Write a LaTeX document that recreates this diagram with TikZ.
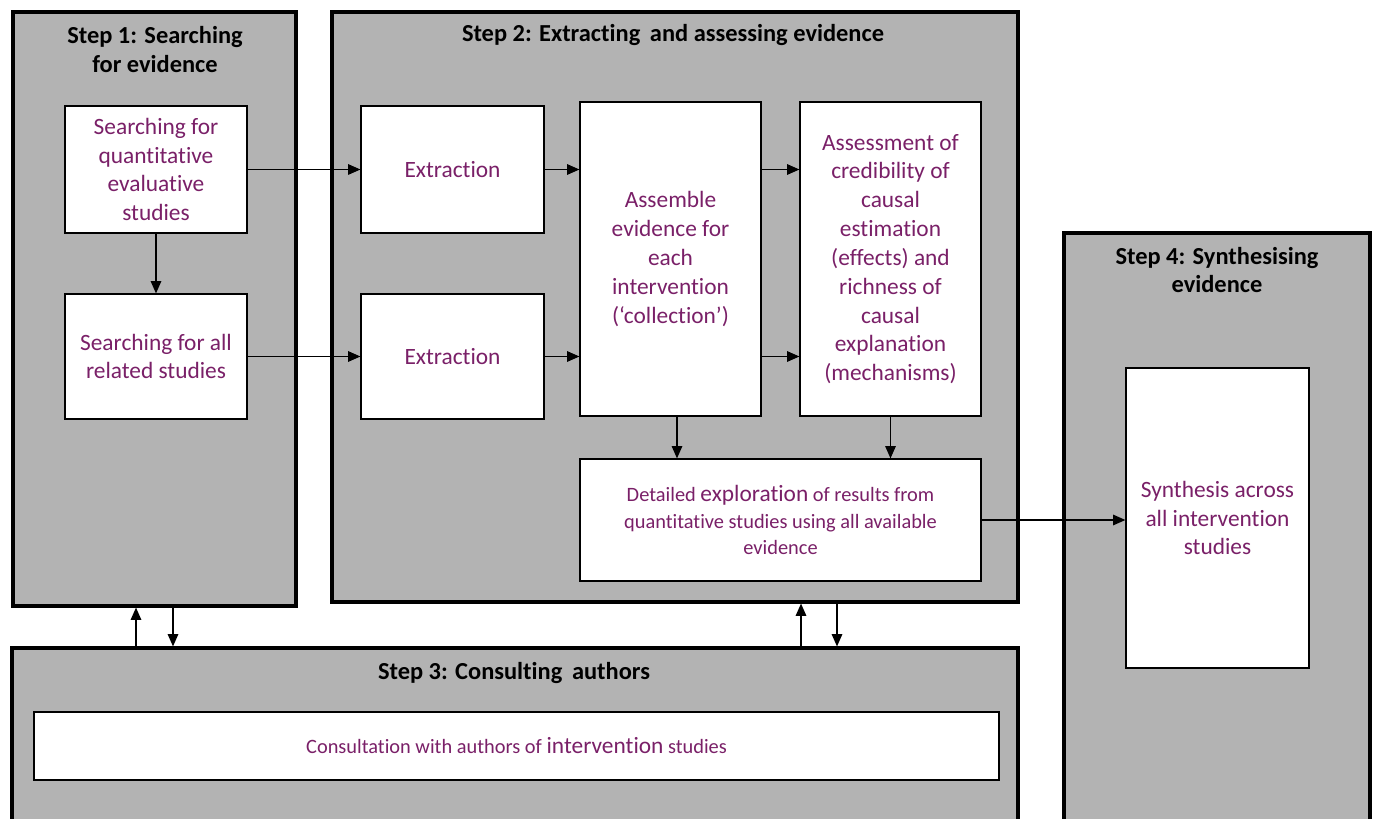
\documentclass[tikz,border=0pt]{standalone}
\usepackage{fontspec}
\setmainfont{Carlito}[Ligatures=CommonOff]
\usetikzlibrary{arrows.meta}
\definecolor{boxgray}{RGB}{179,179,179}
\definecolor{txtpurple}{RGB}{122,32,104}
\tikzset{every node/.style={inner sep=2pt}}
\tikzset{stepbox/.style={rectangle,draw,line width=1.8pt,fill=boxgray}}
\tikzset{inbox/.style={rectangle,draw,line width=0.7pt,fill=white,text=txtpurple,align=center,font=\fontsize{13.3}{16.4}\selectfont}}
\tikzset{smallbox/.style={inbox,font=\fontsize{11.6}{15.3}\selectfont}}
\tikzset{ttl/.style={align=center,font=\bfseries\fontsize{13.9}{16.4}\selectfont}}
\tikzset{arr/.style={-{Triangle[length=7pt,width=6pt]},line width=0.7pt}}
\newcommand{\bigw}[1]{{\fontsize{13.3}{15.3}\selectfont #1}}

\begin{document}
\begin{tikzpicture}
      \clip (0,0) rectangle (27.56,-16.38);
      % the four steps
      \node[stepbox,minimum width=5.66cm,minimum height=11.88cm] (S1) at (3.09,-6.18) {};
      \node[stepbox,minimum width=13.72cm,minimum height=11.8cm] (S2) at (13.5,-6.14) {};
      \node[stepbox,minimum width=20.12cm,minimum height=3.84cm] (S3) at (10.3,-14.88) {};
      \node[stepbox,minimum width=6.12cm,minimum height=12.14cm] (S4) at (24.34,-10.73) {};
      \node[ttl] (T1) at (3.1,-0.99) {Step 1: Searching\\for evidence};
      \node[ttl] (T2) at (13.46,-0.7) {Step 2: Extracting\, and assessing evidence};
      \node[ttl] (T3) at (10.28,-13.46) {Step 3: Consulting\, authors};
      \node[ttl] (T4) at (24.34,-5.4) {Step 4: Synthesising\\evidence};
      % boxes inside the steps
      \node[inbox,minimum width=3.64cm,minimum height=2.54cm] (Q) at (3.12,-3.39) {Searching for\\quantitative\\evaluative\\studies};
      \node[inbox,minimum width=3.64cm,minimum height=2.5cm] (A) at (3.12,-7.13) {Searching for all\\related studies};
      \node[inbox,minimum width=3.66cm,minimum height=2.54cm] (E1) at (9.05,-3.39) {Extraction};
      \node[inbox,minimum width=3.66cm,minimum height=2.5cm] (E2) at (9.05,-7.13) {Extraction};
      \node[inbox,minimum width=3.62cm,minimum height=6.28cm] (Asm) at (13.41,-5.18) {Assemble\\evidence for\\each\\intervention\\(‘collection’)};
      \node[inbox,minimum width=3.62cm,minimum height=6.28cm] (Ass) at (17.81,-5.18) {Assessment of\\credibility of\\causal\\estimation\\(effects) and\\richness of\\causal\\explanation\\(mechanisms)};
      \node[smallbox,minimum width=8.02cm,minimum height=2.44cm] (Det) at (15.61,-10.4) {Detailed \bigw{exploration} of results from\\quantitative studies using all available\\evidence};
      \node[smallbox,minimum width=19.3cm,minimum height=1.36cm] (Con) at (10.33,-14.92) {Consultation with authors of \bigw{intervention} studies};
      \node[inbox,minimum width=3.66cm,minimum height=6cm] (Syn) at (24.35,-10.36) {Synthesis across\\all intervention\\studies};
      % connectors
      \foreach \a/\b in {Q/E1,A/E2}
        \draw[arr] (\a) -- (\b);
      \draw[arr] (Q) -- (A);
      \foreach \a in {E1,E2}
        \draw[arr] (\a.east) -- (\a.east -| Asm.west);
      \foreach \a in {E1,E2}
        \draw[arr] (\a -| Asm.east) -- (\a -| Ass.west);
      \coordinate (m1) at ([xshift=0.13cm]Asm.south);
      \foreach \a in {m1,Ass.south}
        \draw[arr] (\a) -- (\a |- Det.north);
      \draw[arr] (Det.east) -- (Det.east -| Syn.west);
      \coordinate (u1) at ([xshift=-0.37cm]S1.south);
      \coordinate (d1) at ([xshift=0.37cm]S1.south);
      \coordinate (u2) at ([xshift=2.52cm]S2.south);
      \coordinate (d2) at ([xshift=3.24cm]S2.south);
      \foreach \a in {u1,u2}
        \draw[arr] (\a |- S3.north) -- (\a);
      \foreach \a in {d1,d2}
        \draw[arr] (\a) -- (\a |- S3.north);
\end{tikzpicture}
\end{document}
